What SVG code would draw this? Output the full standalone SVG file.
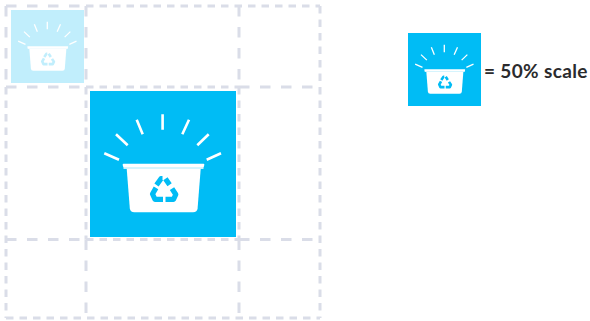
<svg xmlns="http://www.w3.org/2000/svg" xmlns:xlink="http://www.w3.org/1999/xlink" width="590" height="321" viewBox="0 0 590 321">
<style>
.grid{fill:none;stroke:#dadde8;stroke-width:3}
.long{stroke-dasharray:10.5 10.5}
.short{stroke-dasharray:7.5 6}
.ray{stroke:#fff;stroke-width:2.6;fill:none}
.bg{fill:#00bcf5}
.arrow{fill:none;stroke:#00bcf5;stroke-width:5.2;stroke-linejoin:round}
.label{font-family:"Lato","Open Sans","Liberation Sans",sans-serif;font-weight:700;font-size:19px;letter-spacing:.35px;fill:#2b2b2d}
</style>
<defs>
<g id="icon">
<rect class="bg" width="146" height="146"/>
<path class="ray" d="M72.6 23.3V38.7M46.7 28.7L52.7 43.3M26 43.3L37.7 54.3M14.3 62.3L29 68.7M99 28.7L92.3 43.3M118.7 43.3L107.3 54.3M131 62.3L116.7 68.7"/>
<path fill="#c8f0fd" d="M33.5 76H113.5V78H33.5Z"/>
<path fill="#fff" d="M33.5 72.7H113.5Q114.5 72.7 114.3 74L113.7 76.3H33.3L32.7 74Q32.5 72.7 33.5 72.7Z"/>
<path fill="#fff" d="M36.7 77.8H110.7L107.6 117.3Q107.2 121.3 103 121.3H44.4Q40.2 121.3 39.8 117.3Z"/>
<path class="arrow" d="M66.5 94L71 87.7H72.5M75.4 87.7L79.6 93.8M82 97.7L85.8 103.5L83.5 108.3H75.5M73 108.3H65L62.5 103L66 96.9"/>
</g>
</defs>
<g id="grid">
<path class="grid long" d="M6 6H86M6 6V87M6 87H86M86 6V87M239 6V87M239 87H320M6 239.5H86M239 239.5H320M86 239.5V318M239 239.5V318"/>
<path class="grid short" d="M86 6H320M320 6V318M6 318H320M86 87H239M86 239.5H239M6 87V318M86 87V239.5M239 87V239.5"/>
</g>
<g id="faded-bin"><use xlink:href="#icon" href="#icon" transform="translate(11 10) scale(.5)" opacity=".24"/></g>
<g id="large-bin"><use xlink:href="#icon" href="#icon" transform="translate(90 91)"/></g>
<g id="legend">
<use xlink:href="#icon" href="#icon" transform="translate(408 33) scale(.5)"/>
<text class="label" x="484" y="78">= 50% scale</text>
</g>
</svg>
